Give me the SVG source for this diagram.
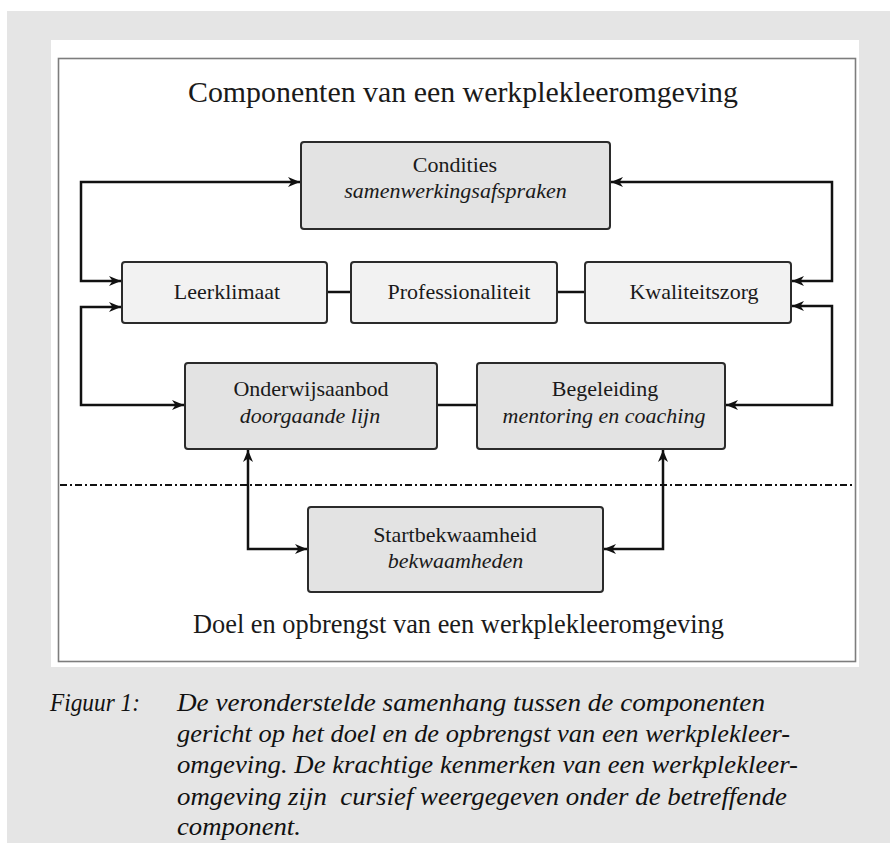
<svg xmlns="http://www.w3.org/2000/svg" width="890" height="843" viewBox="0 0 890 843" font-family="Liberation Serif">
<defs>
<style>
.box{stroke:#2b2b2b;stroke-width:2;}
.dark{fill:#e3e3e3;}
.light{fill:#f2f2f2;}
.lbl{font-size:22px;fill:#1a1a1a;text-anchor:middle;}
.it{font-style:italic;}
.conn{fill:none;stroke:#111;stroke-width:2.5;}
.cap{font-style:italic;font-size:26px;fill:#111;}
</style>
<marker id="ah" markerUnits="userSpaceOnUse" markerWidth="13" markerHeight="11" refX="12" refY="5.5" orient="auto-start-reverse" viewBox="0 0 13 11">
<path d="M0,0.5 L12,5.5 L0,10.5 L3.5,5.5 Z" fill="#111"/>
</marker>
</defs>
<rect x="7" y="11" width="883" height="832" fill="#e5e5e5"/>
<rect x="51" y="40" width="808" height="627" fill="#ffffff"/>
<rect x="58.5" y="58.5" width="797" height="603" fill="none" stroke="#7d7d7d" stroke-width="1.6"/>
<text x="463" y="102" font-family="Liberation Serif" font-size="29.5" fill="#1a1a1a" text-anchor="middle" textLength="550" lengthAdjust="spacingAndGlyphs">Componenten van een werkplekleeromgeving</text>
<text x="458.5" y="633" font-family="Liberation Serif" font-size="26.4" fill="#1a1a1a" text-anchor="middle" textLength="531" lengthAdjust="spacingAndGlyphs">Doel en opbrengst van een werkplekleeromgeving</text>
<line x1="60" y1="485" x2="855" y2="485" stroke="#111" stroke-width="1.8" stroke-dasharray="7 3 2 3"/>
<g id="connectors">
<path class="conn" d="M121,281 H81 V182 H300" marker-start="url(#ah)" marker-end="url(#ah)"/>
<path class="conn" d="M792,281 H832 V182 H611" marker-start="url(#ah)" marker-end="url(#ah)"/>
<path class="conn" d="M121,307 H81 V405 H184" marker-start="url(#ah)" marker-end="url(#ah)"/>
<path class="conn" d="M792,306 H832 V405 H726" marker-start="url(#ah)" marker-end="url(#ah)"/>
<path class="conn" d="M327,292 H351"/>
<path class="conn" d="M557,292 H585"/>
<path class="conn" d="M437,405 H477"/>
<path class="conn" d="M248,450 V549 H307" marker-start="url(#ah)" marker-end="url(#ah)"/>
<path class="conn" d="M663,450 V549 H604" marker-start="url(#ah)" marker-end="url(#ah)"/>
</g>
<g id="condities" font-family="Liberation Serif">
<rect class="box dark" x="301" y="142" width="309" height="87" rx="3"/>
<text class="lbl" x="455" y="172" font-family="Liberation Serif">Condities</text>
<text class="lbl it" x="455.5" y="198" font-family="Liberation Serif">samenwerkingsafspraken</text>
</g>
<g id="leerklimaat" font-family="Liberation Serif">
<rect class="box light" x="122" y="262" width="205" height="61" rx="3"/>
<text class="lbl" x="227" y="299" font-family="Liberation Serif">Leerklimaat</text>
</g>
<g id="professionaliteit" font-family="Liberation Serif">
<rect class="box light" x="351" y="262" width="206" height="61" rx="3"/>
<text class="lbl" x="459" y="299" font-family="Liberation Serif">Professionaliteit</text>
</g>
<g id="kwaliteitszorg" font-family="Liberation Serif">
<rect class="box light" x="585" y="262" width="206" height="61" rx="3"/>
<text class="lbl" x="694" y="299" font-family="Liberation Serif">Kwaliteitszorg</text>
</g>
<g id="onderwijsaanbod" font-family="Liberation Serif">
<rect class="box dark" x="185" y="363" width="252" height="86" rx="3"/>
<text class="lbl" x="311" y="396" font-family="Liberation Serif">Onderwijsaanbod</text>
<text class="lbl it" x="310" y="423" font-family="Liberation Serif">doorgaande lijn</text>
</g>
<g id="begeleiding" font-family="Liberation Serif">
<rect class="box dark" x="477" y="363" width="248" height="86" rx="3"/>
<text class="lbl" x="605" y="396" font-family="Liberation Serif">Begeleiding</text>
<text class="lbl it" x="604" y="423" font-family="Liberation Serif">mentoring en coaching</text>
</g>
<g id="startbekwaamheid" font-family="Liberation Serif">
<rect class="box dark" x="308" y="507" width="295" height="85" rx="3"/>
<text class="lbl" x="455" y="542" font-family="Liberation Serif">Startbekwaamheid</text>
<text class="lbl it" x="455.5" y="568" font-family="Liberation Serif">bekwaamheden</text>
</g>
<g id="caption" font-family="Liberation Serif">
<text class="cap" x="50" y="711" font-family="Liberation Serif" textLength="90" lengthAdjust="spacingAndGlyphs">Figuur 1:</text>
<text class="cap" x="177" y="711" font-family="Liberation Serif" textLength="588" lengthAdjust="spacingAndGlyphs">De veronderstelde samenhang tussen de componenten</text>
<text class="cap" x="177" y="742" font-family="Liberation Serif" textLength="613" lengthAdjust="spacingAndGlyphs">gericht op het doel en de opbrengst van een werkplekleer-</text>
<text class="cap" x="177" y="773" font-family="Liberation Serif" textLength="621" lengthAdjust="spacingAndGlyphs">omgeving. De krachtige kenmerken van een werkplekleer-</text>
<text class="cap" x="177" y="805" font-family="Liberation Serif" textLength="610" lengthAdjust="spacingAndGlyphs" xml:space="preserve">omgeving zijn  cursief weergegeven onder de betreffende</text>
<text class="cap" x="177" y="835" font-family="Liberation Serif" textLength="124" lengthAdjust="spacingAndGlyphs">component.</text>
</g>
</svg>
